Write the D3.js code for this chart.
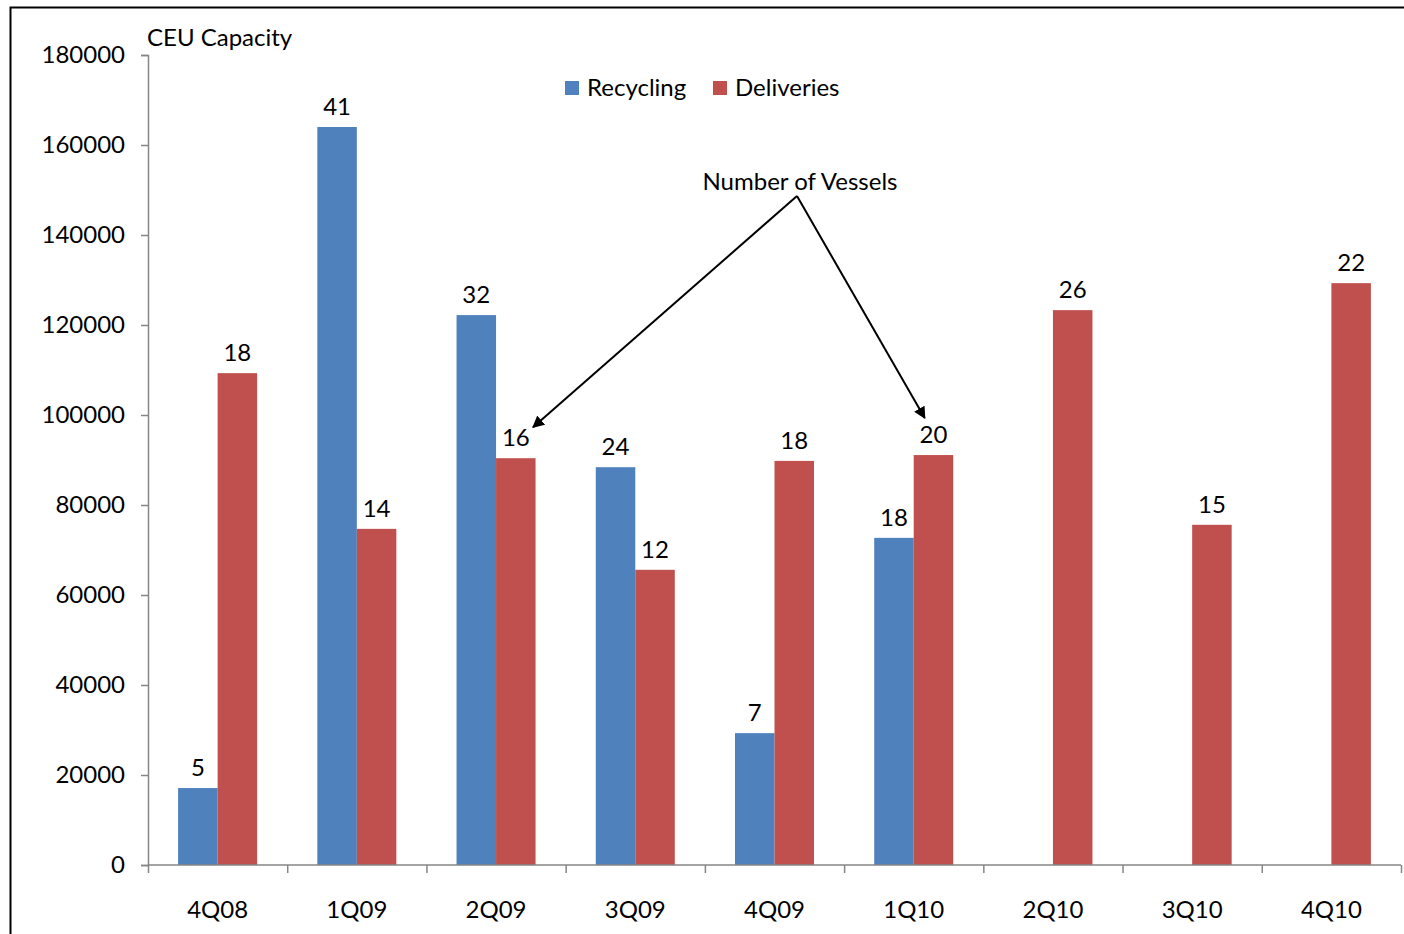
<!DOCTYPE html>
<html>
<head>
<meta charset="utf-8">
<script src="https://cdn.jsdelivr.net/npm/d3@7"></script>
<style>
  body { margin: 0; background: #fff; }
  text { font-family: Lato, 'Open Sans', sans-serif; fill: #000; }
</style>
</head>
<body>
<div id="chart"></div>
<script>
let quarters = ['4Q08', '1Q09', '2Q09', '3Q09', '4Q09', '1Q10', '2Q10', '3Q10', '4Q10']
let series = ['Recycling', 'Deliveries']
let recycling = [17100, 164000, 122200, 88400, 29300, 72700, null, null, null]
let deliveries = [109300, 74700, 90400, 65600, 89800, 91100, 123300, 75600, 129300]
let recyclingVessels = [5, 41, 32, 24, 7, 18, null, null, null]
let deliveryVessels = [18, 14, 16, 12, 18, 20, 26, 15, 22]
let yTicks = [0, 20000, 40000, 60000, 80000, 100000, 120000, 140000, 160000, 180000]
let colors = { Recycling: '#4F81BD', Deliveries: '#C0504D' }

let margin = { top: 55, left: 148, right: 3, bottom: 69 }
let width = 1404 - margin.left - margin.right
let height = 934 - margin.top - margin.bottom

let root = d3
  .select('#chart')
  .append('svg')
  .attr('width', 1404)
  .attr('height', 934)

// outer frame
root
  .append('rect')
  .attr('x', 10.5)
  .attr('y', 7.5)
  .attr('width', 1420)
  .attr('height', 940)
  .attr('fill', 'none')
  .attr('stroke', '#000')
  .attr('stroke-width', 2)

let svg = root
  .append('g')
  .attr('transform', 'translate(' + margin.left + ',' + margin.top + ')')

let xPositionScale = d3.scaleBand().domain(quarters).range([0, width])
let xSub = d3
  .scaleBand()
  .domain(series)
  .range([0, xPositionScale.bandwidth()])
  .paddingOuter(0.762)
let yPositionScale = d3.scaleLinear().domain([0, 180000]).range([height, 0])

let datapoints = quarters.map((q, i) => ({
  quarter: q,
  values: [
    { key: 'Recycling', value: recycling[i], vessels: recyclingVessels[i] },
    { key: 'Deliveries', value: deliveries[i], vessels: deliveryVessels[i] }
  ].filter(d => d.value !== null)
}))

let groups = svg
  .selectAll('.group')
  .data(datapoints)
  .enter()
  .append('g')
  .attr('class', 'group')
  .attr('transform', d => 'translate(' + xPositionScale(d.quarter) + ',0)')

groups
  .selectAll('rect')
  .data(d => d.values)
  .enter()
  .append('rect')
  .attr('x', d => xSub(d.key))
  .attr('y', d => yPositionScale(d.value))
  .attr('width', xSub.bandwidth())
  .attr('height', d => height - yPositionScale(d.value))
  .attr('fill', d => colors[d.key])

groups
  .selectAll('.count')
  .data(d => d.values)
  .enter()
  .append('text')
  .attr('class', 'count')
  .attr('x', d => xSub(d.key) + xSub.bandwidth() / 2)
  .attr('y', d => yPositionScale(d.value) - 12)
  .attr('text-anchor', 'middle')
  .attr('font-size', 24)
  .text(d => d.vessels)

// axes
let yAxis = d3
  .axisLeft(yPositionScale)
  .tickValues(yTicks)
  .tickFormat(d3.format('d'))
  .tickSize(7)
  .tickPadding(16)
svg
  .append('g')
  .attr('class', 'axis y-axis')
  .call(yAxis)

let xAxis = d3.axisBottom(xPositionScale).tickSize(0).tickPadding(36)
svg
  .append('g')
  .attr('class', 'axis x-axis')
  .attr('transform', 'translate(0,' + height + ')')
  .call(xAxis)

// x tick marks sit between categories
svg
  .select('.x-axis')
  .selectAll('.divider')
  .data(quarters.concat(['end']))
  .enter()
  .append('line')
  .attr('class', 'divider')
  .attr('x1', (d, i) => i * xPositionScale.step() + 0.5)
  .attr('x2', (d, i) => i * xPositionScale.step() + 0.5)
  .attr('y1', 0)
  .attr('y2', 8)
  .attr('stroke', '#868686')
  .attr('stroke-width', 1.5)

svg.selectAll('.axis path').attr('stroke', '#868686').attr('stroke-width', 1.5)
svg.selectAll('.axis .tick line').attr('stroke', '#868686').attr('stroke-width', 1.5)
svg.selectAll('.axis text').attr('font-size', 24).attr('font-family', 'Lato, sans-serif').attr('fill', '#000')
svg.select('.x-axis path').attr('d', 'M0.5,0H' + width)

// axis title
svg
  .append('text')
  .attr('x', -1)
  .attr('y', -9)
  .attr('font-size', 24)
  .text('CEU Capacity')

// legend
let legend = svg
  .append('g')
  .attr('transform', 'translate(417,26)')
let legendX = [0, 148]
series.forEach((s, i) => {
  legend
    .append('rect')
    .attr('x', legendX[i])
    .attr('y', 0)
    .attr('width', 14)
    .attr('height', 14)
    .attr('fill', colors[s])
  legend
    .append('text')
    .attr('x', legendX[i] + 22)
    .attr('y', 15)
    .attr('font-size', 24)
    .text(s)
})

// annotation
let defs = root.append('defs')
defs
  .append('marker')
  .attr('id', 'arrow')
  .attr('viewBox', '0 0 10 10')
  .attr('refX', 9)
  .attr('refY', 5)
  .attr('markerWidth', 6)
  .attr('markerHeight', 6)
  .attr('orient', 'auto')
  .append('path')
  .attr('d', 'M0,0L10,5L0,10Z')
  .attr('fill', '#000')

let apex = [797 - margin.left, 196 - margin.top]
let targets = [
  [xPositionScale('2Q09') + xSub('Deliveries') + 37, yPositionScale(90400) - 31],
  [xPositionScale('1Q10') + xSub('Deliveries') + 11, yPositionScale(91100) - 37]
]
targets.forEach(t => {
  svg
    .append('line')
    .attr('x1', apex[0])
    .attr('y1', apex[1])
    .attr('x2', t[0])
    .attr('y2', t[1])
    .attr('stroke', '#000')
    .attr('stroke-width', 2)
    .attr('marker-end', 'url(#arrow)')
})
svg
  .append('text')
  .attr('x', apex[0] + 3)
  .attr('y', apex[1] - 6)
  .attr('text-anchor', 'middle')
  .attr('font-size', 24)
  .text('Number of Vessels')
</script>
</body>
</html>
